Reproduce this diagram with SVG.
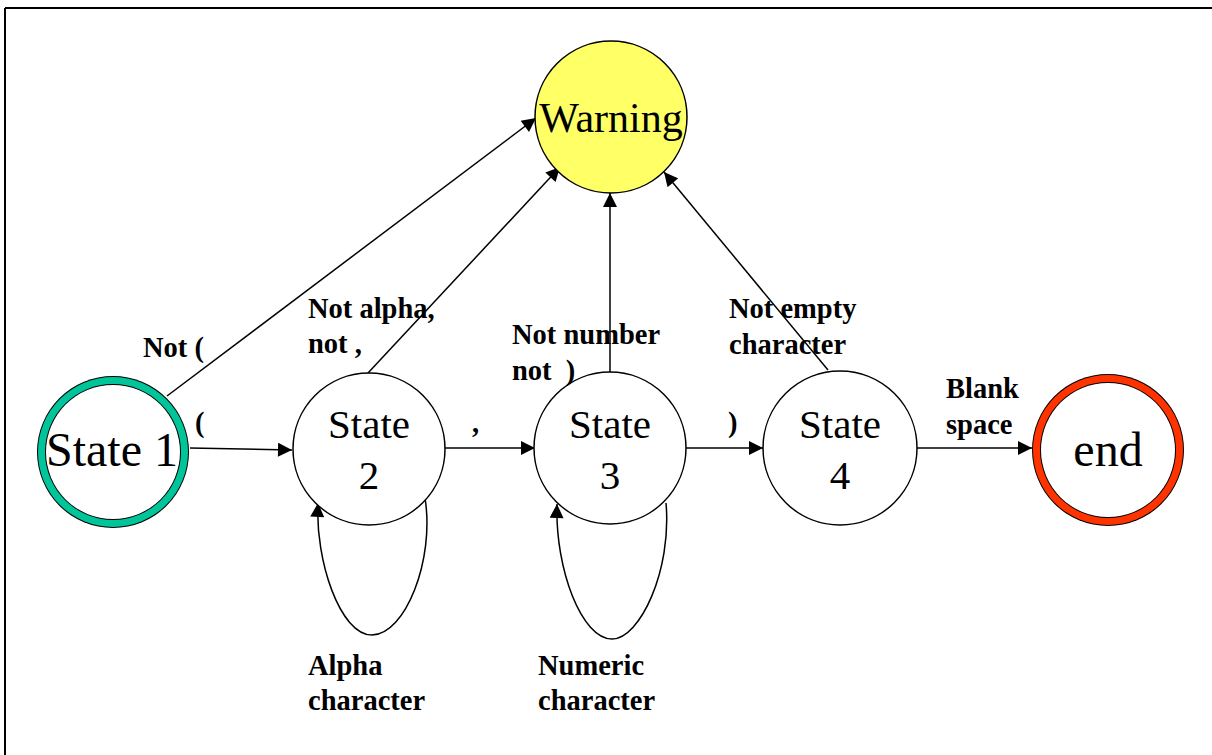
<svg xmlns="http://www.w3.org/2000/svg" width="1212" height="755" viewBox="0 0 1212 755">
  <style>
    .node { fill: #ffffff; stroke: #000000; stroke-width: 1.5; }
    .big { font-family: "Liberation Serif", "Times New Roman", serif; fill: #000000; text-anchor: middle; }
    .lbl { font-family: "Liberation Serif", "Times New Roman", serif; font-weight: bold; font-size: 28.5px; fill: #000000; white-space: pre; }
    .edge { fill: none; stroke: #000000; stroke-width: 1.5; }
  </style>
  <defs>
    <marker id="arrow" viewBox="0 0 10 10" refX="10" refY="5" markerWidth="16" markerHeight="14" markerUnits="userSpaceOnUse" orient="auto">
      <path d="M0,0 L10,5 L0,10 Z" fill="#000000"/>
    </marker>
  </defs>

  <rect width="1212" height="755" fill="#ffffff"/>
  <!-- page frame -->
  <line x1="5" y1="8" x2="1212" y2="8" stroke="#000" stroke-width="2"/>
  <line x1="5" y1="8" x2="5" y2="755" stroke="#000" stroke-width="2"/>

  <g id="connectors">
    <line class="edge" x1="190" y1="448" x2="292" y2="450" marker-end="url(#arrow)"/>
    <line class="edge" x1="445" y1="448" x2="535" y2="448" marker-end="url(#arrow)"/>
    <line class="edge" x1="686" y1="448" x2="763" y2="448" marker-end="url(#arrow)"/>
    <line class="edge" x1="917" y1="448" x2="1032" y2="448" marker-end="url(#arrow)"/>
    <line class="edge" x1="167" y1="396" x2="536" y2="118" marker-end="url(#arrow)"/>
    <line class="edge" x1="368" y1="373" x2="560" y2="167" marker-end="url(#arrow)"/>
    <line class="edge" x1="610" y1="372" x2="610" y2="193" marker-end="url(#arrow)"/>
    <line class="edge" x1="828" y1="370" x2="664" y2="172" marker-end="url(#arrow)"/>
    <path class="edge" d="M425,498 C435,560 405,635 372,635 C340,635 315,560 318,503" marker-end="url(#arrow)"/>
    <path class="edge" d="M666,503 C672,570 640,639 612,639 C582,639 555,570 557,504" marker-end="url(#arrow)"/>
  </g>

  <g id="warning">
    <circle cx="611" cy="117" r="76" fill="#ffff66" stroke="#000" stroke-width="1.5"/>
    <text class="big" x="611" y="132" font-size="42">Warning</text>
  </g>

  <g id="state1">
    <circle cx="113" cy="452" r="76" fill="#000"/>
    <circle cx="113" cy="452" r="75" fill="#00c49a"/>
    <circle cx="113" cy="452" r="68" fill="#000"/>
    <circle cx="113" cy="452" r="67" fill="#ffffff"/>
    <text class="big" x="112" y="466" font-size="48">State 1</text>
  </g>

  <g id="state2">
    <circle class="node" cx="369" cy="449" r="76"/>
    <text class="big" x="369" y="438" font-size="41">State</text>
    <text class="big" x="369" y="489" font-size="41">2</text>
  </g>

  <g id="state3">
    <circle class="node" cx="610" cy="448" r="76"/>
    <text class="big" x="610" y="438" font-size="41">State</text>
    <text class="big" x="610" y="489" font-size="41">3</text>
  </g>

  <g id="state4">
    <circle class="node" cx="840" cy="448" r="77"/>
    <text class="big" x="840" y="438" font-size="41">State</text>
    <text class="big" x="840" y="489" font-size="41">4</text>
  </g>

  <g id="end">
    <circle cx="1108" cy="450" r="76" fill="#000"/>
    <circle cx="1108" cy="450" r="75" fill="#ff3300"/>
    <circle cx="1108" cy="450" r="68" fill="#000"/>
    <circle cx="1108" cy="450" r="67" fill="#ffffff"/>
    <text class="big" x="1108" y="466" font-size="48">end</text>
  </g>

  <g id="labels">
    <text class="lbl" x="143" y="357">Not (</text>
    <text class="lbl" x="195" y="432">(</text>
    <text class="lbl" x="308" y="318">Not alpha,</text>
    <text class="lbl" x="308" y="353">not ,</text>
    <text class="lbl" x="472" y="432">,</text>
    <text class="lbl" x="512" y="344">Not number</text>
    <text class="lbl" x="512" y="380" xml:space="preserve">not  )</text>
    <text class="lbl" x="728" y="432">)</text>
    <text class="lbl" x="729" y="318">Not empty</text>
    <text class="lbl" x="729" y="354">character</text>
    <text class="lbl" x="946" y="398">Blank</text>
    <text class="lbl" x="946" y="434">space</text>
    <text class="lbl" x="308" y="675">Alpha</text>
    <text class="lbl" x="308" y="710">character</text>
    <text class="lbl" x="538" y="675">Numeric</text>
    <text class="lbl" x="538" y="710">character</text>
  </g>
</svg>
